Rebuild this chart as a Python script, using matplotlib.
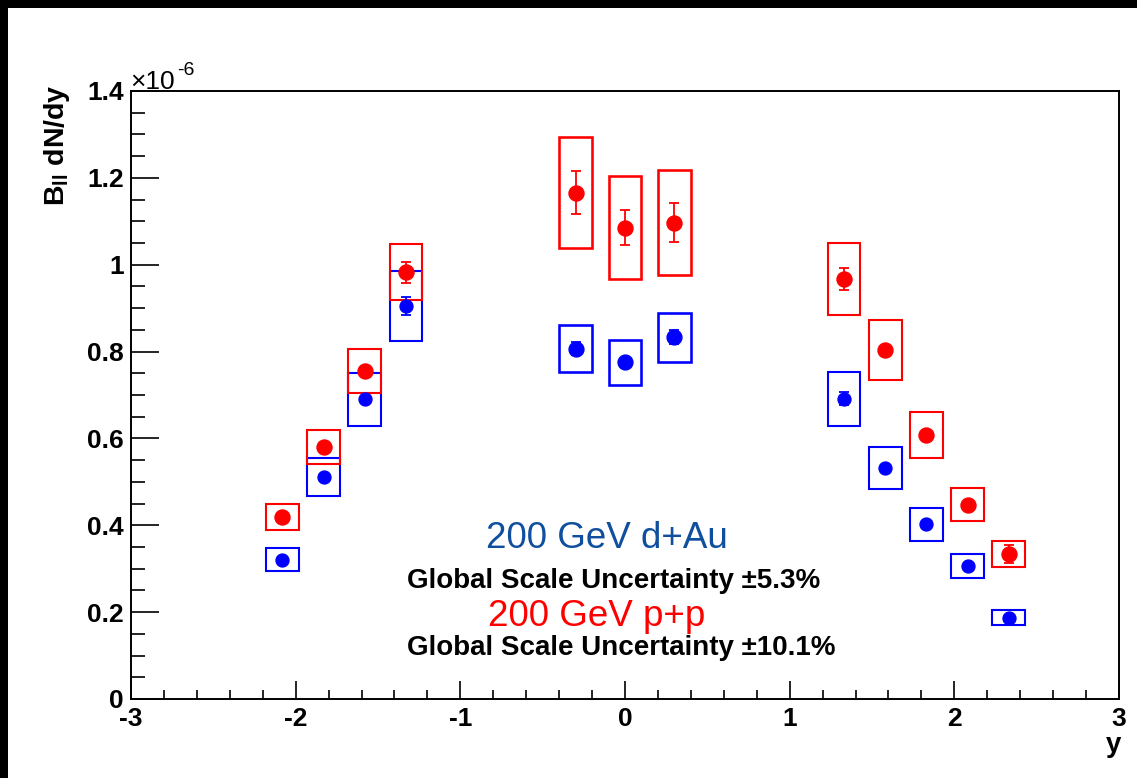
import matplotlib
matplotlib.use("Agg")
import matplotlib.pyplot as plt
from matplotlib.patches import Rectangle
from matplotlib.ticker import MultipleLocator

plt.rcParams['font.family'] = ['Liberation Sans', 'DejaVu Sans']
plt.rcParams['mathtext.fontset'] = 'custom'
plt.rcParams['mathtext.rm'] = 'Liberation Sans:bold'
plt.rcParams['mathtext.bf'] = 'Liberation Sans:bold'
plt.rcParams['mathtext.it'] = 'Liberation Sans:bold'
plt.rcParams['axes.unicode_minus'] = False

# Rapidity bins (same for both systems)
rapidity = [-2.08, -1.83, -1.58, -1.33, -0.30, 0.00, 0.30, 1.33, 1.58, 1.83, 2.08, 2.33]

# d+Au yields (x1e-6), statistical and systematic errors
dau_val = [0.321, 0.511, 0.690, 0.905, 0.807, 0.775, 0.833, 0.691, 0.532, 0.402, 0.306, 0.187]
dau_stat = [0.005, 0.005, 0.005, 0.020, 0.016, 0.010, 0.016, 0.015, 0.005, 0.005, 0.005, 0.004]
dau_sys = [0.027, 0.044, 0.061, 0.080, 0.054, 0.052, 0.056, 0.062, 0.049, 0.038, 0.028, 0.017]

# p+p yields (x1e-6), statistical and systematic errors
pp_val = [0.419, 0.580, 0.755, 0.983, 1.166, 1.085, 1.097, 0.967, 0.803, 0.608, 0.447, 0.334]
pp_stat = [0.005, 0.005, 0.005, 0.024, 0.050, 0.040, 0.045, 0.025, 0.005, 0.005, 0.005, 0.020]
pp_sys = [0.029, 0.040, 0.050, 0.065, 0.128, 0.119, 0.121, 0.083, 0.069, 0.053, 0.038, 0.029]

box_halfwidth = 0.1

W, H = 1137, 778
fig = plt.figure(figsize=(W / 100, H / 100), dpi=100)
fig.patch.set_facecolor('white')


def fx(px):
    return px / W


def fy(py):
    return 1 - py / H


ax = fig.add_axes([fx(131), fy(699), fx(1119) - fx(131), fy(91) - fy(699)])
ax.set_xlim(-3, 3)
ax.set_ylim(0, 1.4)


def draw_series(xs, vals, stats, syss, color, msize, lw_box):
    for x, v, s in zip(xs, vals, syss):
        lw = lw_box * (1.25 if abs(x) < 0.5 else 1.0)
        ax.add_patch(Rectangle((x - box_halfwidth, v - s), 2 * box_halfwidth, 2 * s,
                               fill=False, edgecolor=color, linewidth=lw, zorder=2))
    for x, v, e in zip(xs, vals, stats):
        ms = msize * (1.15 if (abs(x) < 0.5 and color == '#0000ff') else 1.0)
        ax.errorbar([x], [v], yerr=[e], fmt='o', color=color, markersize=ms,
                    elinewidth=1.3, capsize=3.5, capthick=1.3, zorder=3)


draw_series(rapidity, dau_val, dau_stat, dau_sys, '#0000ff', 9.3, 1.5)
draw_series(rapidity, pp_val, pp_stat, pp_sys, '#ff0000', 10.8, 1.5)

# Axes styling
for side in ['top', 'right', 'bottom', 'left']:
    ax.spines[side].set_linewidth(1.4)
ax.xaxis.set_minor_locator(MultipleLocator(0.2))
ax.yaxis.set_minor_locator(MultipleLocator(0.05))
ax.tick_params(axis='x', which='major', direction='in', length=13, width=1.2,
               labelsize=19, pad=6, top=False)
ax.tick_params(axis='x', which='minor', direction='in', length=6.5, width=1.2, top=False)
ax.tick_params(axis='y', which='major', direction='in', length=20, width=1.2,
               labelsize=19, pad=5, right=False)
ax.tick_params(axis='y', which='minor', direction='in', length=10, width=1.2, right=False)
ax.set_yticks([0, 0.2, 0.4, 0.6, 0.8, 1.0, 1.2, 1.4])
ax.set_yticklabels(['0', '0.2', '0.4', '0.6', '0.8', '1', '1.2', '1.4'])
ax.set_xticks([-3, -2, -1, 0, 1, 2, 3])
ax.set_xticklabels(['-3', '-2', '-1', '0', '1', '2', '3'])
for lab in ax.get_xticklabels() + ax.get_yticklabels():
    lab.set_fontweight('bold')

# Axis titles and exponent
fig.text(fx(57), fy(84), r'$\mathbf{B_{ll}}$ dN/dy', rotation=90, ha='center', va='top',
         fontsize=20.5, fontweight='bold')
fig.text(fx(1121), fy(745), 'y', ha='right', va='center', fontsize=20, fontweight='bold')
fig.text(fx(130), fy(89), '\u00d710', ha='left', va='baseline', fontsize=19)
fig.text(fx(177), fy(75), '-6', ha='left', va='baseline', fontsize=14)

# Annotations
fig.text(fx(607), fy(539), '200 GeV d+Au', ha='center', va='center', fontsize=26.5,
         color='#0f4f9e')
fig.text(fx(407), fy(581), 'Global Scale Uncertainty \u00b15.3%', ha='left', va='center',
         fontsize=20, fontweight='bold')
fig.text(fx(597), fy(616), '200 GeV p+p', ha='center', va='center', fontsize=26.5,
         color='#ff0000')
fig.text(fx(407), fy(648), 'Global Scale Uncertainty \u00b110.1%', ha='left', va='center',
         fontsize=20, fontweight='bold')

# Black frame bands along the top and left edges
fig.add_artist(Rectangle((0, fy(8)), 1, 8 / H, transform=fig.transFigure,
                         facecolor='black', edgecolor='none'))
fig.add_artist(Rectangle((0, 0), 8 / W, 1, transform=fig.transFigure,
                         facecolor='black', edgecolor='none'))

fig.savefig('out.png', dpi=100, facecolor='white')
